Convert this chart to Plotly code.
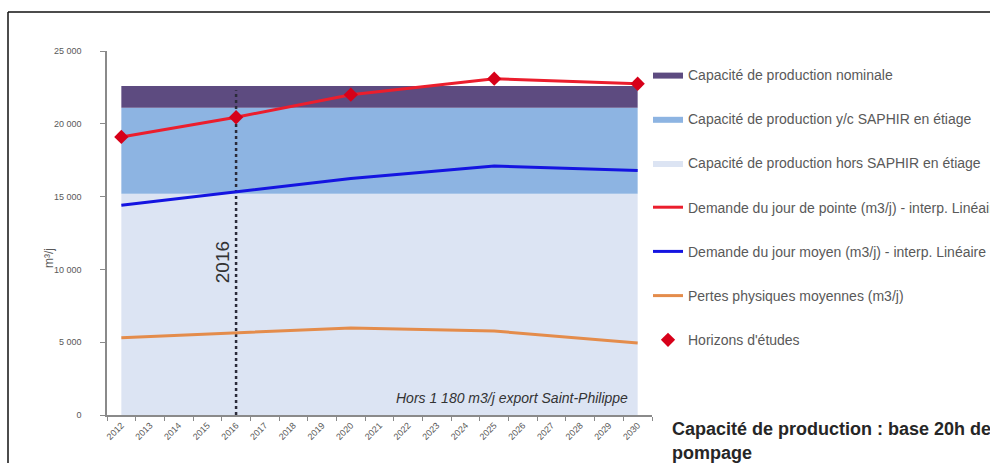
import plotly.graph_objects as go

# Category axis: every year from 2012 to 2030
years = [str(y) for y in range(2012, 2031)]

# Study horizons and the demand / loss values at each of them (m3/j)
horizons = ["2012", "2016", "2020", "2025", "2030"]
peak_demand = [19100, 20450, 22000, 23100, 22750]
mean_demand = [14400, 15300, 16250, 17100, 16800]
physical_losses = [5300, 5620, 5980, 5770, 4950]

# Production capacities (constant over the period), cumulative levels
cap_span = ["2012", "2030"]
cap_hors_saphir = [15200, 15200]
cap_yc_saphir = [21100, 21100]
cap_nominal = [22600, 22600]

y_ticks = [0, 5000, 10000, 15000, 20000, 25000]
y_tick_text = ["0", "5 000", "10 000", "15 000", "20 000", "25 000"]

font_family = "Liberation Sans, Arial, sans-serif"
grey = "#595959"

# Plot area in pixels (used to place paper-referenced items)
PL, PR, PT, PB = 107, 652, 51, 415


def px_x(px):
    return (px - PL) / (PR - PL)


def px_y(py):
    return (PB - py) / (PB - PT)


fig = go.Figure()

fig.add_trace(go.Scatter(
    x=cap_span, y=cap_hors_saphir, mode="lines", fill="tozeroy",
    line=dict(width=0), fillcolor="rgb(220,228,243)",
    name="Capacité de production hors SAPHIR en étiage",
    legendgroup="c", legendrank=3))
fig.add_trace(go.Scatter(
    x=cap_span, y=cap_yc_saphir, mode="lines", fill="tonexty",
    line=dict(width=0), fillcolor="rgb(141,180,226)",
    name="Capacité de production y/c SAPHIR en étiage",
    legendgroup="b", legendrank=2))
fig.add_trace(go.Scatter(
    x=cap_span, y=cap_nominal, mode="lines", fill="tonexty",
    line=dict(width=0), fillcolor="rgb(93,75,128)",
    name="Capacité de production nominale",
    legendgroup="a", legendrank=1))

# 2016 reference line
fig.add_trace(go.Scatter(
    x=["2016", "2016"], y=[0, 22300], mode="lines",
    line=dict(color="#2b2b3a", width=2.5, dash="dot"),
    showlegend=False, hoverinfo="skip"))

fig.add_trace(go.Scatter(
    x=horizons, y=physical_losses, mode="lines",
    line=dict(color="rgb(228,140,75)", width=3),
    name="Pertes physiques moyennes (m3/j)",
    legendgroup="f", legendrank=6))
fig.add_trace(go.Scatter(
    x=horizons, y=mean_demand, mode="lines",
    line=dict(color="rgb(20,20,225)", width=3),
    name="Demande du jour moyen (m3/j) - interp. Linéaire",
    legendgroup="e", legendrank=5))
fig.add_trace(go.Scatter(
    x=horizons, y=peak_demand, mode="lines",
    line=dict(color="rgb(235,30,45)", width=3),
    name="Demande du jour de pointe (m3/j) - interp. Linéaire",
    legendgroup="d", legendrank=4))
fig.add_trace(go.Scatter(
    x=horizons, y=peak_demand, mode="markers",
    marker=dict(symbol="diamond", size=11, color="rgb(215,0,25)"),
    name="Horizons d'études",
    legendgroup="g", legendrank=7))

# Category positions: 2016 is index 4, 2030 is index 18
fig.add_annotation(
    x=years.index("2016"), y=10500, xshift=-14, text="2016", textangle=-90,
    showarrow=False, font=dict(family=font_family, size=19, color="#333333"))
fig.add_annotation(
    x=years.index("2030"), y=1180, xanchor="right", xshift=-8,
    text="<i>Hors 1 180 m3/j export Saint-Philippe</i>",
    showarrow=False, font=dict(family=font_family, size=14, color="#333333"))
fig.add_annotation(
    xref="paper", yref="paper", x=px_x(40), y=px_y(258),
    text="m³/j", textangle=-90, showarrow=False,
    font=dict(family=font_family, size=12, color=grey))
fig.add_annotation(
    xref="paper", yref="paper", x=px_x(670), y=px_y(429),
    xanchor="left", yanchor="middle", align="left",
    text="<b>Capacité de production : base 20h de</b>",
    showarrow=False, font=dict(family=font_family, size=18, color="#262626"))
fig.add_annotation(
    xref="paper", yref="paper", x=px_x(670), y=px_y(453),
    xanchor="left", yanchor="middle", align="left",
    text="<b>pompage</b>",
    showarrow=False, font=dict(family=font_family, size=18, color="#262626"))

# Outer frame
fig.add_shape(type="line", xref="paper", yref="paper",
              x0=px_x(8), x1=px_x(8), y0=px_y(470), y1=px_y(12),
              line=dict(color="#111111", width=1.5))
fig.add_shape(type="line", xref="paper", yref="paper",
              x0=px_x(8), x1=px_x(995), y0=px_y(12), y1=px_y(12),
              line=dict(color="#111111", width=1.5))

fig.update_xaxes(
    type="category", categoryorder="array", categoryarray=years,
    tickvals=years, ticktext=years, tickangle=-45,
    tickson="boundaries", ticks="outside", ticklen=4, tickcolor="#8a8a8a",
    showline=True, linecolor="#8a8a8a", linewidth=1.5, showgrid=False,
    range=[-0.5, 18.5], tickfont=dict(family=font_family, size=9, color=grey),
    zeroline=False)
fig.update_yaxes(
    range=[0, 25000], tickvals=y_ticks, ticktext=y_tick_text,
    ticks="outside", ticklen=5, tickcolor="#8a8a8a", ticklabelstandoff=17,
    showline=True, linecolor="#8a8a8a", linewidth=1.5, showgrid=False,
    zeroline=False, tickfont=dict(family=font_family, size=9, color=grey))

fig.update_layout(
    width=990, height=463,
    margin=dict(l=PL, r=990 - PR, t=PT, b=463 - PB, autoexpand=False),
    paper_bgcolor="white", plot_bgcolor="white",
    font=dict(family=font_family, color=grey),
    showlegend=True,
    legend=dict(
        x=px_x(648), y=px_y(59),
        xanchor="left", yanchor="top", tracegroupgap=23,
        font=dict(family=font_family, size=14, color=grey),
        bgcolor="rgba(0,0,0,0)", itemwidth=30),
)

fig.write_html("out.html")
